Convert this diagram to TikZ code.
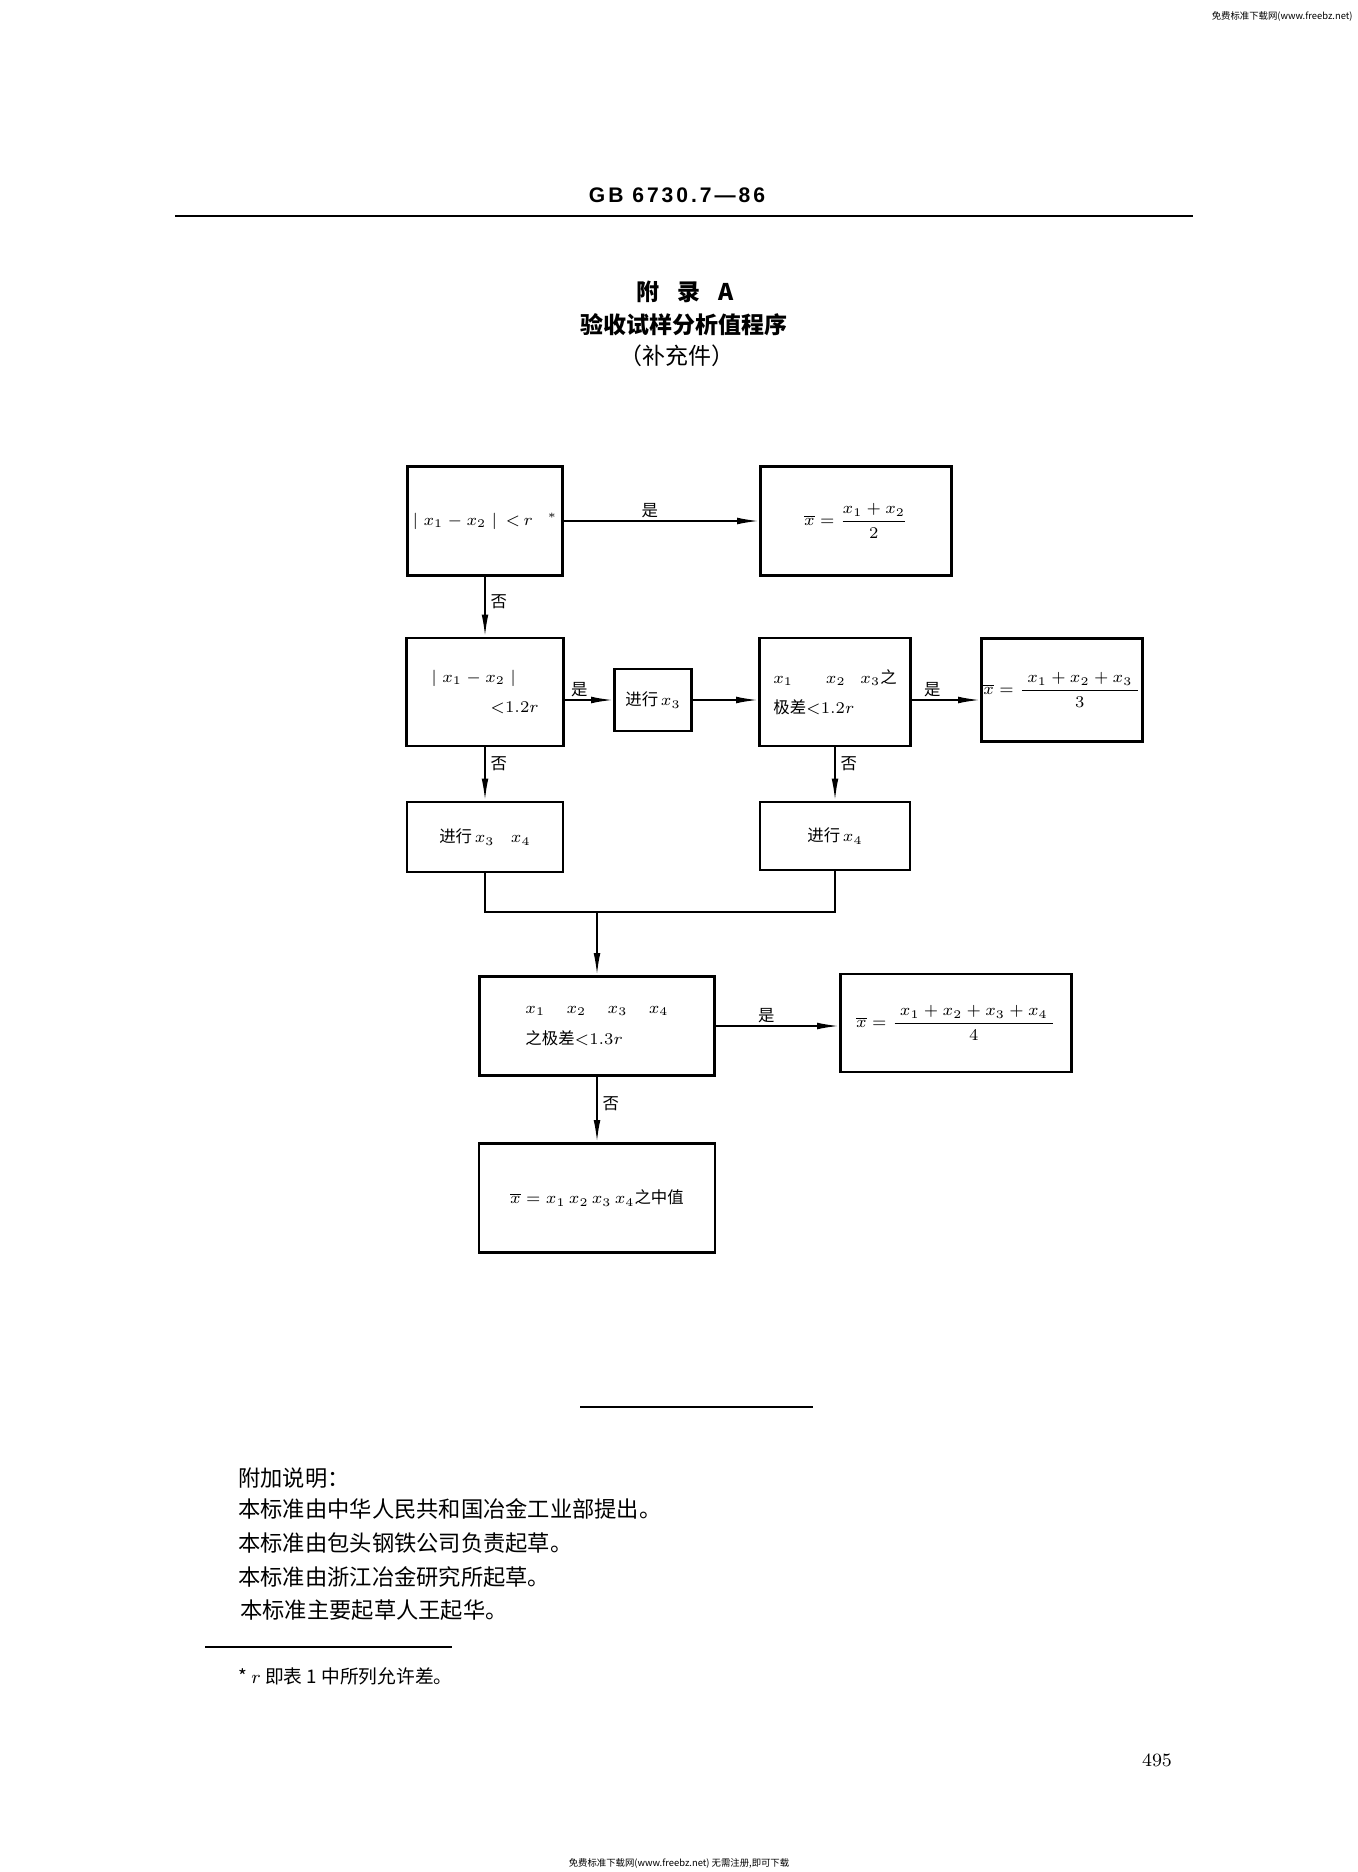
\documentclass[tikz,border=0pt]{standalone}
\usepackage{amsmath}
\usepackage{fontspec}
\newfontfamily\cjk{Noto Sans CJK SC}
\newfontfamily\hdfont[LetterSpace=14]{Liberation Sans}
\usetikzlibrary{arrows.meta}

\tikzset{
  flowbox/.style 2 args={draw, line width=1.1pt, minimum width=#1*0.015cm,
    minimum height=#2*0.015cm, inner sep=0pt, font=\cjk\fontsize{7}{13}\selectfont},
  flowline/.style={line width=0.75pt},
  flowarrow/.style={line width=0.75pt, -{Latex[length=3.3mm,width=1mm]}},
  yesno/.style={font=\cjk\fontsize{7}{8}\selectfont, inner sep=1pt},
  bodytext/.style={anchor=west, font=\cjk\fontsize{9.5}{10}\selectfont, inner sep=0pt},
}

\begin{document}
\begin{tikzpicture}[x=0.015cm, y=-0.015cm]
    % page size
    \useasboundingbox (0,0) rectangle (1357,1872);
    % site mark, top right
    \node[font=\cjk\fontsize{4}{5}\selectfont, anchor=east, inner sep=0pt] (siteTop) at (1353,16) {免费标准下载网(www.freebz.net)};
    % standard number
    \node[font=\hdfont\bfseries\fontsize{9}{10}\selectfont] (stdNo) at (677,195) {GB 6730.7—86};
    % rule under standard number
    \draw[line width=1.2pt] (175,216) -- (1193,216);
    % appendix heading
    \node[font=\cjk\bfseries\fontsize{9.8}{10}\selectfont] (appA) at (685,292) {附\hspace{0.8em}录\hspace{0.8em}A};
    \node[font=\cjk\bfseries\fontsize{9.8}{10}\selectfont] (appTitle) at (684,325) {验收试样分析值程序};
    \node[font=\cjk\fontsize{9.8}{10}\selectfont] (appKind) at (677,356) {（补充件）};

    % first check
    \node[flowbox={155}{109}] (chk2) at (485,521) {$|\;x_1-x_2\;|\;\,{<}\,r\hspace{0.9em}{}^{*}$};
    % mean of two
    \node[flowbox={191}{109}] (mean2) at (856,521) {$\overline{x}=\dfrac{x_1+x_2}{2}$};
    % second check
    \node[flowbox={157}{108}, align=left] (chk12) at (485,692) {$|\;x_1-x_2\;|$\\\hspace*{3.6em}${<}1.2r$};
    % run x3
    \node[flowbox={77}{62}] (run3) at (653,700) {进行\,$x_3$};
    % range of three
    \node[flowbox={151}{108}, align=left] (chk3) at (835,692) {$x_1\qquad x_2\hspace{0.9em}x_3$之\\极差${<}1.2r$};
    % mean of three
    \node[flowbox={161}{103}] (mean3) at (1062,690) {$\overline{x}=\dfrac{\;x_1+x_2+x_3\;}{3}$};
    % run x3 x4
    \node[flowbox={156}{70}] (run34) at (485,837) {进行\,$x_3\quad x_4$};
    % run x4
    \node[flowbox={150}{68}] (run4) at (835,836) {进行\,$x_4$};
    % range of four
    \node[flowbox={235}{99}, align=left] (chk4) at (597,1026) {$x_1\hspace{1.3em}x_2\hspace{1.3em}x_3\hspace{1.3em}x_4$\\之极差${<}1.3r$};
    % mean of four
    \node[flowbox={231}{98}] (mean4) at (956,1023) {$\overline{x}=\dfrac{\;x_1+x_2+x_3+x_4\;}{4}$};
    % median of four
    \node[flowbox={236}{109}] (median4) at (597,1198) {$\overline{x}=x_1\,x_2\,x_3\,x_4$之中值};

    % yes branches
    \draw[flowarrow] (chk2) -- (mean2) node[yesno, pos=0.44, above] (yes1) {是};
    \draw[flowarrow] (chk12.east |- run3) -- (run3.west) node[yesno, pos=0.3, above] (yes2) {是};
    \draw[flowarrow] (run3.east) -- (chk3.west |- run3);
    \draw[flowarrow] (chk3.east |- run3) -- (mean3.west |- run3) node[yesno, pos=0.3, above] (yes3) {是};
    \draw[flowarrow] (chk4.east) -- (mean4.west |- chk4.east) node[yesno, pos=0.41, above] (yes4) {是};
    % no branches
    \draw[flowarrow] (chk2) -- (chk12) node[yesno, pos=0.42, right=1pt] (no1) {否};
    \draw[flowarrow] (chk12) -- (run34) node[yesno, pos=0.3, right=1pt] (no2) {否};
    \draw[flowarrow] (chk3) -- (run4) node[yesno, pos=0.3, right=1pt] (no3) {否};
    \draw[flowarrow] (chk4) -- (median4) node[yesno, pos=0.41, right=1pt] (no4) {否};
    % join of the two runs
    \coordinate (join) at (597,912);
    \draw[flowline] (run34) |- (join) -| (run4);
    \draw[flowarrow] (join) -- (chk4);

    % end rule
    \draw[line width=1.1pt] (580,1407) -- (813,1407);
    % notes
    \node[bodytext] (note0) at (238,1478) {附加说明：};
    \node[bodytext] (note1) at (238,1509) {本标准由中华人民共和国冶金工业部提出。};
    \node[bodytext] (note2) at (238,1543) {本标准由包头钢铁公司负责起草。};
    \node[bodytext] (note3) at (238,1577) {本标准由浙江冶金研究所起草。};
    \node[bodytext] (note4) at (240,1610) {本标准主要起草人王起华。};
    % footnote rule
    \draw[line width=0.8pt] (205,1647) -- (452,1647);
    % footnote
    \node[anchor=west, inner sep=0pt, font=\cjk\fontsize{8}{9}\selectfont] (foot) at (238,1676) {* $r$ 即表 1 中所列允许差。};
    % page number
    \node[font=\fontsize{8}{9}\selectfont] (pageNo) at (1157,1760) {495};
    % site mark, bottom
    \node[font=\cjk\fontsize{4}{5}\selectfont, inner sep=0pt] (siteBot) at (679,1863) {免费标准下载网(www.freebz.net) 无需注册,即可下载};
\end{tikzpicture}
\end{document}
